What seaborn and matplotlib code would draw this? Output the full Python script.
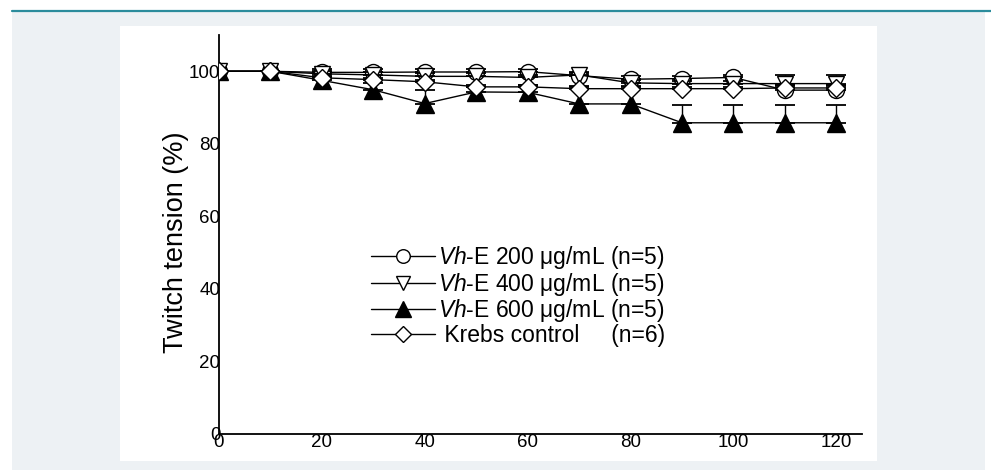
import numpy as np
import pandas as pd
import matplotlib
matplotlib.use("Agg")
import matplotlib.pyplot as plt
from matplotlib.lines import Line2D
from matplotlib.patches import Rectangle
import seaborn as sns

# ---- data ----
times = [0, 10, 20, 30, 40, 50, 60, 70, 80, 90, 100, 110, 120]
vhe200 = [100, 100, 99.7, 99.7, 99.8, 99.8, 99.9, 98.8, 97.8, 98.0, 98.3, 94.8, 94.8]
vhe400 = [100, 100, 99.3, 99.0, 98.6, 98.6, 98.3, 99.0, 96.8, 96.6, 96.6, 96.6, 96.6]
vhe600 = [100, 100, 97.5, 94.9, 91.1, 94.3, 94.2, 91.0, 91.0, 85.8, 85.8, 85.8, 85.8]
krebs = [100, 100, 98.2, 97.7, 97.1, 95.7, 95.7, 95.2, 95.2, 95.2, 95.2, 95.4, 95.4]
err200 = [0, 0, 0.8, 0.8, 0.8, 0.8, 0.8, 0.8, 0.8, 0.8, 0.8, 1.5, 1.5]
err400 = [0, 0, 0.8, 0.8, 0.8, 0.8, 0.8, 0.8, 0.8, 0.8, 0.8, 2.5, 2.5]
err600 = [0, 0, 1.0, 2.0, 3.6, 1.5, 2.0, 5.0, 5.0, 4.8, 4.8, 4.8, 4.8]
errkrebs = [0, 0, 0.5, 0.5, 0.5, 0.5, 0.5, 0.5, 0.5, 0.5, 0.5, 0.5, 0.5]
labels = [r"$\mathit{Vh}$-E 200 μg/mL (n=5)",
          r"$\mathit{Vh}$-E 400 μg/mL (n=5)",
          r"$\mathit{Vh}$-E 600 μg/mL (n=5)",
          " Krebs control     (n=6)"]
xticks = [0, 20, 40, 60, 80, 100, 120]
yticks = [0, 20, 40, 60, 80, 100]

sns.set_theme(style="white")
plt.rcParams["font.family"] = ["Liberation Sans", "DejaVu Sans"]
plt.rcParams["mathtext.fontset"] = "custom"
plt.rcParams["mathtext.rm"] = "Liberation Sans"
plt.rcParams["mathtext.it"] = "Liberation Sans:italic"

W, H = 991, 470
fig = plt.figure(figsize=(W / 100, H / 100), dpi=100, facecolor="white")

def fx(px):
    return px / W

def fy(py):
    return 1 - py / H

# background panels
fig.patches.append(Rectangle((fx(12), 0), fx(985) - fx(12), fy(12), transform=fig.transFigure,
                             facecolor="#edf1f4", edgecolor="none", zorder=-3))
fig.patches.append(Rectangle((fx(120), fy(461)), fx(877) - fx(120), fy(26) - fy(461),
                             transform=fig.transFigure, facecolor="white", edgecolor="none", zorder=-2))
fig.lines.append(Line2D([fx(12), 1], [fy(11), fy(11)], transform=fig.transFigure,
                        color="#2b8c9c", lw=1.6, zorder=-1))

ax = fig.add_axes([fx(219), fy(434), fx(862) - fx(219), fy(35) - fy(434)])
ax.set_facecolor("none")
ax.set_zorder(1)

series = [
    (vhe200, err200, dict(marker="o", markersize=11.5, markerfacecolor="white")),
    (vhe400, err400, dict(marker="v", markersize=12, markerfacecolor="white")),
    (vhe600, err600, dict(marker="^", markersize=13, markerfacecolor="black")),
    (krebs, errkrebs, dict(marker="D", markersize=9.5, markerfacecolor="white")),
]

for i, (vals, err, st) in enumerate(series):
    df = pd.DataFrame({"t": times, "v": vals})
    ax.errorbar(times, vals, yerr=[np.zeros(len(err)), err], fmt="none", ecolor="black",
                elinewidth=1.0, capsize=7, capthick=1.3, zorder=2 + i * 2)
    sns.lineplot(data=df, x="t", y="v", ax=ax, color="black", lw=1.0,
                 markeredgecolor="black", markeredgewidth=1.0, zorder=3 + i * 2, **st)

ax.set_xlim(0, 125)
ax.set_ylim(0, 110)
ax.set_xticks(xticks)
ax.set_yticks(yticks)
ax.set_xticks(np.arange(10, 125, 20), minor=True)
ax.set_yticks(np.arange(10, 110, 20), minor=True)
ax.tick_params(axis="both", which="major", length=0, labelsize=13.5, colors="black")
ax.tick_params(axis="both", which="minor", length=3, width=1, direction="out", color="black")
ax.tick_params(axis="y", which="major", pad=-1)
ax.tick_params(axis="x", which="major", pad=0)
for s in ["top", "right"]:
    ax.spines[s].set_visible(False)
for s in ["left", "bottom"]:
    ax.spines[s].set_color("black")
    ax.spines[s].set_linewidth(1.3)
ax.set_xlabel("")
ax.set_ylabel("")

fig.text(fx(176), fy(242), "Twitch tension (%)", rotation=90, ha="center", va="center",
         fontsize=19.5, color="black")

handles = [Line2D([], [], color="black", lw=1.0, markeredgecolor="black", markeredgewidth=1.0,
                  **{k: v for k, v in st.items() if k != "markersize"},
                  markersize=st["markersize"] * 0.85) for _, _, st in series]
leg = ax.legend(handles, labels, loc="upper left", bbox_to_anchor=((371 - 219) / 643, (434 - 244) / 399),
                frameon=False, fontsize=16.5, handlelength=2.8, handletextpad=0.12,
                labelspacing=-0.02, borderaxespad=0, borderpad=0)
for t in leg.get_texts():
    t.set_color("black")

fig.savefig("out.png", dpi=100, facecolor=fig.get_facecolor())
